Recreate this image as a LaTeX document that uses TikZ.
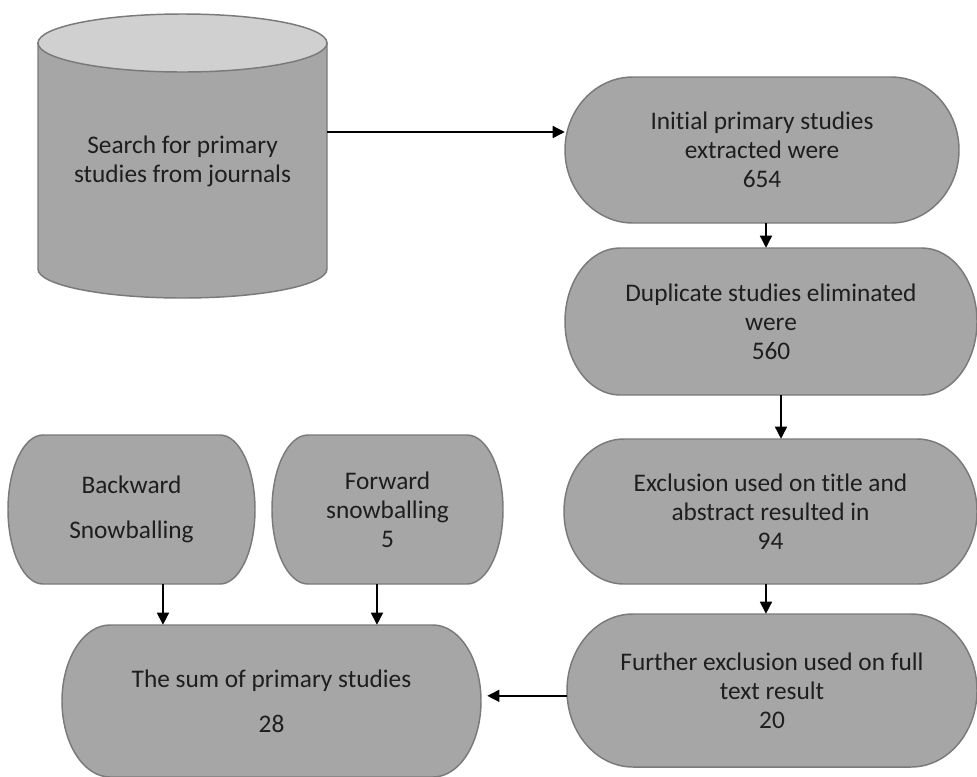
\documentclass[tikz,border=0pt]{standalone}
\usepackage{fontspec}
\setmainfont{Carlito}[Ligatures = NoCommon]
\usetikzlibrary{arrows.meta, calc}
\definecolor{boxgrey}{HTML}{A6A6A6}
\definecolor{rimgrey}{HTML}{7A7A7A}
\definecolor{lidgrey}{HTML}{D0D0D0}
\definecolor{inkgrey}{HTML}{1E1E1E}
\tikzset{stage/.style = {fill = boxgrey, draw = rimgrey, line width = 1.1pt}}
\tikzset{boxtext/.style = {align = center, text = inkgrey, inner sep = 0pt, font = \fontsize{19}{21.75}\selectfont}}
\tikzset{edge/.style = {-{Triangle[length = 9pt, width = 9pt]}, line width = 1pt}}
\newcommand{\pill}[6]{%
	\path[stage] ($#2+({-#3/2+#5},{#4/2})$) -- ++({#3-2*#5},0)
		arc[start angle = 90, end angle = -90, x radius = #5, y radius = #4/2]
		-- ++({-(#3-2*#5)},0)
		arc[start angle = 270, end angle = 90, x radius = #5, y radius = #4/2] -- cycle;
	\node[boxtext, minimum width = {#3*0.75pt}, minimum height = {#4*0.75pt}] (#1) at #2 {#6};
}

\begin{document}
\begin{tikzpicture}[x = 0.75pt, y = 0.75pt]
				\useasboundingbox (0, 0) rectangle (977, -776);

				\path[stage] (38, -43) -- (38, -269) arc[start angle = 180, end angle = 360, x radius = 144.5, y radius = 29] -- (327, -43) -- cycle;
				\path[stage, fill = lidgrey] (182.5, -43) ellipse[x radius = 144.5, y radius = 29];
				\node[boxtext, minimum width = 216.75pt] (src) at (182.5, -161) {Search for primary\\studies from journals};

				\pill{init}{(762, -150)}{394}{146}{68}{Initial primary studies\\extracted were\\654}
				\pill{dup}{(771, -321.5)}{412}{147}{55}{Duplicate studies eliminated\\were\\560}
				\pill{excl}{(770.5, -511.5)}{413}{145}{60}{Exclusion used on title and\\abstract resulted in\\94}
				\pill{furth}{(772, -690.5)}{410}{153}{66}{Further exclusion used on full\\text result\\20}
				\pill{back}{(131.5, -509.5)}{247}{149}{35}{Backward\\[12pt]Snowballing}
				\pill{fwd}{(387.5, -509.5)}{231}{149}{36}{Forward\\snowballing\\5}
				\pill{total}{(271.5, -701)}{419}{152}{48}{The sum of primary studies\\[12pt]28}

				\coordinate (lvl) at (0, -132);
				\draw[edge] (src.east |- lvl) to (init.west |- lvl);
				\draw[edge] ([xshift = 3pt]init.south) to ([xshift = 3pt]init.south |- dup.north);
				\draw[edge] ([xshift = 7.5pt]dup.south) to ([xshift = 7.5pt]dup.south |- excl.north);
				\draw[edge] ([xshift = -3.4pt]excl.south) to ([xshift = -3.4pt]excl.south |- furth.north);
				\draw[edge, shorten > = 4.5pt] ([yshift = -4pt]furth.west) to ([yshift = -4pt]furth.west -| total.east);
				\draw[edge] ([xshift = 23.6pt]back.south) to ([xshift = 23.6pt]back.south |- total.north);
				\draw[edge] ([xshift = -7.9pt]fwd.south) to ([xshift = -7.9pt]fwd.south |- total.north);
			\end{tikzpicture}
\end{document}
